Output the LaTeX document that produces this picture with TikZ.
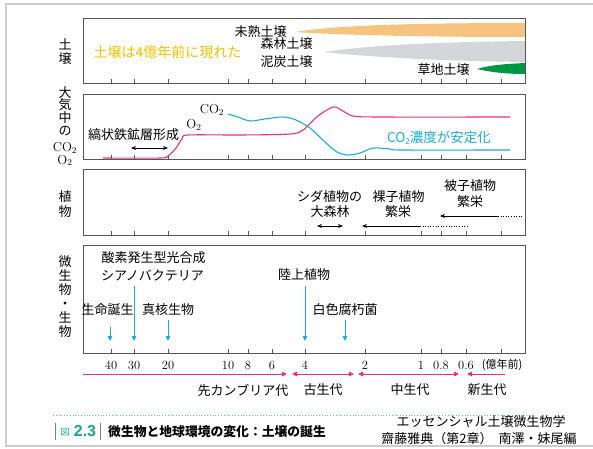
\documentclass[tikz,border=0pt]{standalone}
\usepackage{fontspec}
\newfontfamily\jp{Noto Sans CJK JP}
\newfontfamily\capsans{Liberation Sans}
\usetikzlibrary{arrows.meta}
\definecolor{pinkc}{RGB}{232,48,122}
\definecolor{cyanc}{RGB}{30,168,222}
\definecolor{yelc}{RGB}{248,190,0}
\definecolor{orac}{RGB}{246,196,128}
\definecolor{grayb}{RGB}{212,214,217}
\definecolor{greenc}{RGB}{0,150,70}
\definecolor{tealc}{RGB}{20,165,155}
\definecolor{framec}{RGB}{205,205,205}
\definecolor{panelc}{RGB}{85,85,85}
\begin{document}
\begin{tikzpicture}[x=1pt,y=-1pt,
  jt/.style={font=\jp\fontsize{13}{13}\selectfont, inner sep=0pt},
  jv/.style={font=\jp\fontsize{13}{14}\selectfont, inner sep=0pt, align=center},
  num/.style={font=\fontsize{12.5}{12.5}\selectfont, inner sep=0pt},
  panel/.style={draw=panelc, line width=0.9pt},
  tick/.style={draw=panelc, line width=0.7pt},
  cyarrow/.style={draw=cyanc, line width=0.9pt, -{Triangle[length=5pt,width=4.5pt]}},
  eraarrow/.style={draw=pinkc, line width=0.8pt},
  blk/.style={line width=0.8pt},
]
\useasboundingbox (0,0) rectangle (593,448);
% outer frame
\draw[framec, line width=1.6pt] (593,4) -- (6,4) -- (6,446) -- (593,446);

% ---------- soil bands ----------
\fill[orac] (295,32) .. controls (330,26) and (400,23) .. (525,23) -- (525,37) .. controls (420,37) and (340,35) .. (295,32) -- cycle;
\fill[grayb] (323,52) .. controls (380,44) and (450,42) .. (525,41) -- (525,62) .. controls (450,61) and (380,58) .. (323,52) -- cycle;
\fill[greenc] (477,69) .. controls (490,65) and (505,64) .. (525,63) -- (525,74) .. controls (505,74) and (490,72) .. (477,69) -- cycle;

% ---------- panels ----------
\draw[panel] (83,18) rectangle (525,83);
\draw[panel] (83,94) rectangle (525,159);
\draw[panel] (83,169) rectangle (525,235);
\draw[panel] (83,245) rectangle (525,353);
\foreach \yb in {83,159,235,353} {
  \foreach \t in {111,134,168,228,248,272,305,365,421,441,466,501} {
    \draw[tick] (\t,\yb) -- ++(0,-4);
  }
}

% ---------- left labels ----------
\node[jv] (lsoil) at (65,52) {土\\壌};
\node[jv, font=\jp\fontsize{13}{12.8}\selectfont] (latm) at (65,126) {大\\気\\中\\の\\[3pt]{\rmfamily CO$_2$}\\{\rmfamily O$_2$}};
\node[jv, font=\jp\fontsize{13}{15}\selectfont] (lplant) at (65,204) {植\\物};
\node[jv] (lmicro) at (65,297) {微\\生\\物\\・\\生\\物};

% ---------- panel 1 texts ----------
\node[jt, text=yelc, font=\jp\fontsize{14}{14}\selectfont] (soil4) at (167.5,52) {土壌は4億年前に現れた};
\node[jt] (mijuku) at (260.5,32) {未熟土壌};
\node[jt] (shinrin) at (286.5,44) {森林土壌};
\node[jt] (deitan) at (286.5,62) {泥炭土壌};
\node[jt] (souchi) at (443.5,70) {草地土壌};

% ---------- panel 2 ----------
\node[jt] (shima) at (133.5,135) {縞状鉄鉱層形成};
\coordinate (shA) at (131,148);
\coordinate (shB) at (168,148);
\draw[blk, {Stealth[length=5pt,width=4pt]}-{Stealth[length=5pt,width=4pt]}] (shA) -- (shB);
\node[num, font=\fontsize{13}{13}\selectfont] (co2lab) at (212,110) {CO$_2$};
\node[num, font=\fontsize{13}{13}\selectfont] (o2lab) at (194,125) {O$_2$};
\draw[pinkc, line width=1.1pt] plot[smooth, tension=0.5] coordinates {(103,158) (160,158) (168,156) (176,148) (182,139) (188,135) (240,135) (290,134) (303,130) (318,116) (333,107) (343,111) (353,116) (380,117) (510,117)};
\draw[cyanc, line width=1.1pt] plot[smooth, tension=0.5] coordinates {(228,114) (238,117) (250,121) (265,119) (283,117) (296,120) (310,128) (325,142) (337,152) (348,155) (360,153) (373,148) (390,149) (402,150) (510,150)};
\node[jt, text=cyanc, font=\jp\fontsize{13.5}{13.5}\selectfont] (stab) at (439,138) {CO\raisebox{-2pt}{\fontsize{8}{8}\selectfont 2}濃度が安定化};

% ---------- panel 3 ----------
\node[jt] (shida1) at (329.5,197) {シダ植物の};
\node[jt] (shida2) at (330,212) {大森林};
\coordinate (sdA) at (317,226);
\coordinate (sdB) at (343,226);
\draw[blk, {Stealth[length=5pt,width=4pt]}-{Stealth[length=5pt,width=4pt]}] (sdA) -- (sdB);
\node[jt] (rashi1) at (398.5,197) {裸子植物};
\node[jt] (rashi2) at (398,212) {繁栄};
\coordinate (rsA) at (362,226);
\coordinate (rsB) at (420,226);
\coordinate (rsC) at (467,226);
\draw[blk, {Stealth[length=5pt,width=4pt]}-] (rsA) -- (rsB);
\draw[line width=0.6pt, dotted] (rsB) -- (rsC);
\node[jt] (hishi1) at (470,186) {被子植物};
\node[jt] (hishi2) at (470,202) {繁栄};
\coordinate (hsA) at (440,216);
\coordinate (hsB) at (498,216);
\coordinate (hsC) at (522,216);
\draw[blk, {Stealth[length=5pt,width=4pt]}-] (hsA) -- (hsB);
\draw[line width=0.6pt, dotted] (hsB) -- (hsC);

% ---------- panel 4 ----------
\node[jt] (sanso) at (153.5,258) {酸素発生型光合成};
\node[jt] (cyano) at (152.5,275) {シアノバクテリア};
\node[jt] (seimei) at (107.5,310) {生命誕生};
\node[jt] (shinkaku) at (168,310) {真核生物};
\node[jt] (rikujo) at (304,275) {陸上植物};
\node[jt] (hakushoku) at (345,310) {白色腐朽菌};
\coordinate (aCy) at (134,341);
\coordinate (aSe) at (110,341);
\coordinate (aSh) at (168,341);
\coordinate (aRi) at (305,341);
\coordinate (aHa) at (345,341);
\coordinate (sCy) at (134,286);
\coordinate (sSe) at (110,327);
\coordinate (sSh) at (168,320);
\coordinate (sRi) at (305,286);
\coordinate (sHa) at (345,320);
\draw[cyarrow] (sCy) -- (aCy);
\draw[cyarrow] (sSe) -- (aSe);
\draw[cyarrow] (sSh) -- (aSh);
\draw[cyarrow] (sRi) -- (aRi);
\draw[cyarrow] (sHa) -- (aHa);

% ---------- axis labels ----------
\foreach \t/\l/\n in {111/40/a,134/30/b,168/20/c,228/10/d,248/8/e,272/6/f,305/4/g,365/2/h,421/1/i,441/0.8/j,466/0.6/k} {
  \node[num] (n\n) at (\t,365) {\l};
}
\node[jt, font=\jp\fontsize{11}{11}\selectfont] (unit) at (502,365) {(億年前)};

% ---------- eras ----------
\coordinate (e1a) at (83,374);  \coordinate (e1b) at (287,374);
\coordinate (e2a) at (292,374); \coordinate (e2b) at (354,374);
\coordinate (e3a) at (358,374); \coordinate (e3b) at (459,374);
\coordinate (e4a) at (467,374); \coordinate (e4b) at (505,374);
\draw[eraarrow, -{Triangle[length=5pt,width=4.5pt]}] (e1a) -- (e1b);
\draw[eraarrow, {Triangle[length=5pt,width=4.5pt]}-{Triangle[length=5pt,width=4.5pt]}] (e2a) -- (e2b);
\draw[eraarrow, {Triangle[length=5pt,width=4.5pt]}-{Triangle[length=5pt,width=4.5pt]}] (e3a) -- (e3b);
\draw[eraarrow, {Triangle[length=5pt,width=4.5pt]}-] (e4a) -- (e4b);
\node[jt] (era1) at (243,390) {先カンブリア代};
\node[jt] (era2) at (323,390) {古生代};
\node[jt] (era3) at (410,390) {中生代};
\node[jt] (era4) at (487,390) {新生代};

% ---------- caption ----------
\draw[tealc!70, line width=0.8pt, dotted] (53,415) -- (528,415);
\draw[gray, line width=1pt] (55,423) -- (55,440);
\draw[gray, line width=1pt] (100,423) -- (100,440);
\node[jt, text=tealc, font=\jp\fontsize{9}{9}\selectfont] (zu) at (65,432) {図};
\node[inner sep=0pt, text=tealc, font=\capsans\bfseries\fontsize{16}{16}\selectfont] (zunum) at (85,431) {2.3};
\node[jt, anchor=west, font=\jp\bfseries\fontsize{12.8}{12.8}\selectfont] (cap) at (108,432) {微生物と地球環境の変化：土壌の誕生};
\node[jt] (book) at (481,422) {エッセンシャル土壌微生物学};
\node[jt] (auth) at (479,439) {齋藤雅典（第2章）\hspace{6pt}南澤・妹尾編};
\end{tikzpicture}
\end{document}
